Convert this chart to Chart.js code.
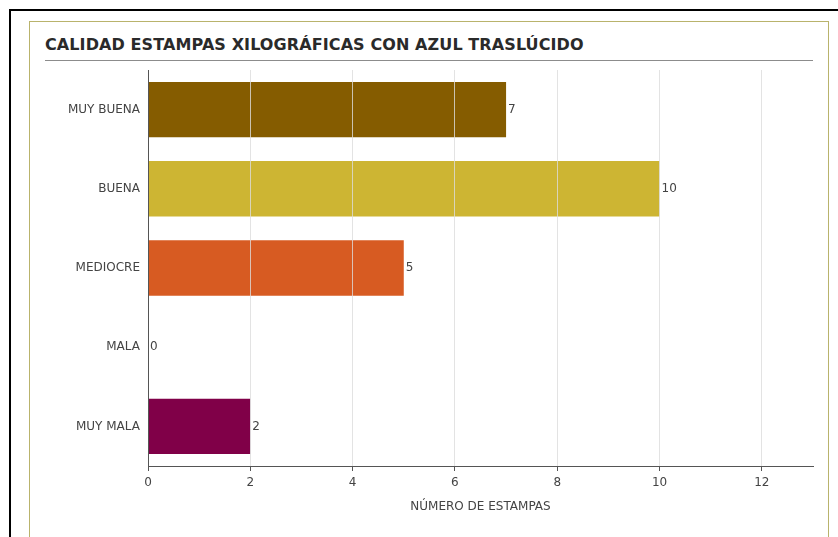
<!DOCTYPE html>
<html>
<head>
<meta charset="utf-8">
<script src="https://cdn.jsdelivr.net/npm/chart.js@4.4.0/dist/chart.umd.min.js"></script>
<style>
  body { margin: 0; background: #fff; width: 838px; height: 537px; overflow: hidden; position: relative; }
  .outer { position: absolute; left: 9px; top: 9px; width: 840px; height: 540px; border-top: 2px solid #000; border-left: 2px solid #000; }
  .box { position: absolute; left: 29px; top: 21px; width: 798px; height: 540px; border: 1px solid #b9b36c; }
  .title { position: absolute; left: 45px; top: 35px; font: bold 16px "DejaVu Sans", sans-serif; letter-spacing: 0.1px; color: #2a2a2a; white-space: nowrap; }
  .rule { position: absolute; left: 45px; top: 60px; width: 768px; height: 0; border-top: 1px solid #8c8c8c; }
  #wrap { position: absolute; left: 0; top: 0; width: 838px; height: 537px; }
</style>
</head>
<body>
<div class="outer"></div>
<div class="box"></div>
<div class="title">CALIDAD ESTAMPAS XILOGRÁFICAS CON AZUL TRASLÚCIDO</div>
<div class="rule"></div>
<div id="wrap"><canvas id="chart"></canvas></div>
<script>
// data
const categories = ['MUY BUENA', 'BUENA', 'MEDIOCRE', 'MALA', 'MUY MALA'];
const estampas = [7, 10, 5, 0, 2];
const barColors = ['#855c00', '#cdb533', '#d75b22', '#6b8e23', '#800048'];
const xTitle = 'NÚMERO DE ESTAMPAS';
const xMax = 13;

const font = { family: '"DejaVu Sans", sans-serif', size: 12 };

// numbers at the end of each bar
const valueLabels = {
    id: 'valueLabels',
    afterDraw(chart) {
        const ctx = chart.ctx;
        const meta = chart.getDatasetMeta(0);
        ctx.save();
        ctx.font = '12px "DejaVu Sans", sans-serif';
        ctx.fillStyle = '#444';
        ctx.textAlign = 'left';
        ctx.textBaseline = 'middle';
        meta.data.forEach((bar, i) => {
            ctx.fillText(String(estampas[i]), bar.x + 2, bar.y);
        });
        ctx.restore();
    }
};

new Chart(document.getElementById('chart'), {
    type: 'bar',
    data: {
        labels: categories,
        datasets: [{
            data: estampas,
            backgroundColor: barColors,
            borderWidth: 0,
            barPercentage: 0.7,
            categoryPercentage: 1.0,
        }],
    },
    options: {
        indexAxis: 'y',
        responsive: true,
        maintainAspectRatio: false,
        animation: false,
        layout: { padding: { left: 40, right: 25, top: 70, bottom: 19 } },
        plugins: {
            legend: { display: false },
            tooltip: { enabled: false },
        },
        scales: {
            x: {
                min: 0,
                max: xMax,
                z: 1,
                afterFit: (s) => { s.height = 52; },
                ticks: { stepSize: 2, includeBounds: false, color: '#444', font: font, padding: 5 },
                // grid sits on top of the bars, as in the original
                grid: { z: 1, color: 'rgba(220,220,220,0.8)', tickColor: '#555', tickLength: 5 },
                border: { color: '#555', width: 1, z: 2 },
                title: { display: true, text: xTitle, color: '#444', font: font, padding: { top: 4, bottom: 4 } },
            },
            y: {
                afterFit: (s) => { s.width = 108; },
                ticks: { color: '#444', font: font, padding: 8 },
                grid: { display: false, drawTicks: false },
                border: { display: true, color: '#555', width: 1, z: 2 },
            },
        },
    },
    plugins: [valueLabels],
});
</script>
</body>
</html>
